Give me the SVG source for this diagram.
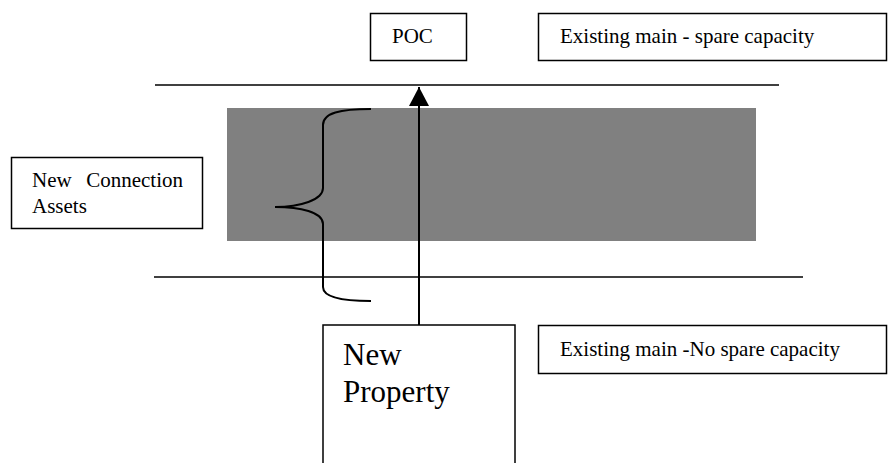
<svg xmlns="http://www.w3.org/2000/svg" width="890" height="463" viewBox="0 0 890 463">
<style>
.box{fill:#fff;stroke:#000;stroke-width:1.5}
.t{font-family:"Liberation Serif","Times New Roman",serif;font-size:21px;fill:#000}
.big{font-size:31px}
.ln{stroke:#000;stroke-width:1.5;fill:none}
</style>
<defs>
<marker id="ah" markerWidth="20" markerHeight="20" refX="19" refY="10" orient="auto" markerUnits="userSpaceOnUse" viewBox="0 0 20 20">
<path d="M0,0 L19,10 L0,20 z" fill="#000"/>
</marker>
</defs>
<rect width="890" height="463" fill="#fff"/>
<g id="grey-band"><rect x="227" y="108" width="529" height="133" fill="#808080"/></g>
<g id="mains">
<line class="ln" x1="155" y1="85" x2="779" y2="85"/>
<line class="ln" x1="154" y1="277" x2="803" y2="277"/>
</g>
<g id="poc"><rect class="box" x="370.5" y="13.5" width="96" height="47"/><text class="t" x="392" y="43">POC</text></g>
<g id="existing-spare"><rect class="box" x="538.5" y="13.5" width="348" height="47"/><text class="t" x="560" y="43">Existing main - spare capacity</text></g>
<g id="existing-nospare"><rect class="box" x="538.5" y="325.5" width="348" height="48"/><text class="t" x="560" y="356">Existing main -No spare capacity</text></g>
<g id="new-connection-assets"><rect class="box" x="11.5" y="157.5" width="191" height="71"/>
<text class="t" x="32" y="186.5">New</text><text class="t" x="183" y="186.5" text-anchor="end">Connection</text>
<text class="t" x="32" y="212.5">Assets</text></g>
<g id="new-property"><rect class="box" x="323" y="325" width="192" height="150"/>
<text class="t big" x="343" y="365">New</text><text class="t big" x="343" y="402">Property</text></g>
<g id="connectors">
<path d="M371,109 C340,109 323,113 323,125 L323,188 C323,200 300,207 275,207 C300,207 323,212 323,224 L323,287 C323,297 340,301 371,301" fill="none" stroke="#000" stroke-width="2"/>
<line x1="419" y1="325" x2="419" y2="87" stroke="#000" stroke-width="2" marker-end="url(#ah)"/>
</g>
</svg>
